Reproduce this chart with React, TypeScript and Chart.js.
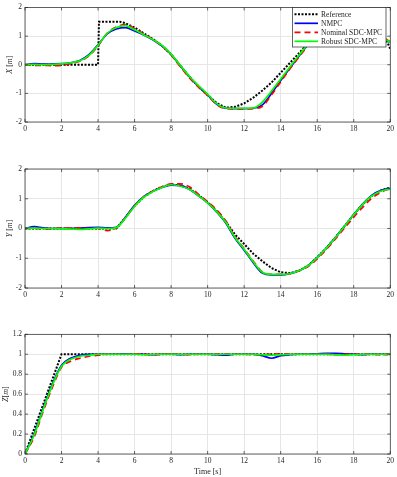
import React, { useEffect, useRef } from "react";
import { Chart, registerables } from "chart.js";
Chart.register(...registerables);

const W = 397;
const PLOT_LEFT = 25;
const PLOT_RIGHT = 391.7;
const FONT = "'Liberation Serif', 'Times New Roman', serif";
const AXIS_COLOR = "#262626";
const GRID_COLOR = "#e6e6e6";

// time grid (s)
const T = [0, 0.5, 1, 1.5, 2, 2.5, 3, 3.5, 4, 4.5, 5, 5.5, 6, 6.5, 7, 7.5, 8, 8.5, 9, 9.5, 10,
  10.5, 11, 11.5, 12, 12.5, 13, 13.5, 14, 14.5, 15, 15.5, 16, 16.5, 17, 17.5, 18, 18.5, 19, 19.5, 20];

// X position
const xRefT = [0, 4, 4.05, 5.2, 5.5, 6, 6.5, 7, 7.5, 8, 8.5, 9, 9.5, 10, 10.5, 11, 11.5, 12, 12.5, 13, 13.5,
  14, 14.5, 15, 15.5, 16, 16.5, 17, 17.5, 18, 18.5, 19, 19.5, 19.8, 20];
const xRef = [0, 0, 1.5, 1.5, 1.45, 1.3, 1.1, 0.9, 0.66, 0.36, -0.03, -0.42, -0.76, -1.06, -1.34, -1.5, -1.47,
  -1.35, -1.15, -0.9, -0.62, -0.28, 0.06, 0.4, 0.75, 1.05, 1.3, 1.45, 1.5, 1.45, 1.35, 1.18, 1.0, 0.85, 0.55];
const xNMPC = [0, 0.04, 0.02, 0.03, 0.04, 0.07, 0.15, 0.35, 0.7, 1.08, 1.25, 1.3, 1.18, 1.04, 0.87, 0.66, 0.36,
  -0.03, -0.42, -0.76, -1.05, -1.38, -1.52, -1.53, -1.53, -1.52, -1.4, -1.0, -0.55, -0.12, 0.3, 0.7, 1.03, 1.28,
  1.44, 1.5, 1.45, 1.33, 1.16, 0.98, 0.78];
const xNominal = [0, -0.02, -0.02, -0.03, -0.02, 0.04, 0.12, 0.31, 0.66, 1.1, 1.32, 1.4, 1.26, 1.08, 0.89, 0.66,
  0.34, -0.06, -0.45, -0.78, -1.07, -1.39, -1.53, -1.54, -1.54, -1.53, -1.45, -1.05, -0.6, -0.15, 0.27, 0.68,
  1.02, 1.27, 1.43, 1.5, 1.46, 1.35, 1.18, 1.0, 0.8];
const xRobust = [0, 0.01, 0.0, 0.01, 0.03, 0.07, 0.14, 0.33, 0.68, 1.1, 1.3, 1.37, 1.22, 1.05, 0.88, 0.68, 0.37,
  -0.02, -0.4, -0.73, -1.03, -1.36, -1.51, -1.52, -1.52, -1.51, -1.3, -0.92, -0.5, -0.08, 0.33, 0.72, 1.05, 1.3,
  1.45, 1.5, 1.45, 1.32, 1.15, 0.97, 0.78];

// Y position
const yRef = [0, 0, 0, 0, 0, 0, 0, 0, 0, 0, 0, 0.37, 0.76, 1.06, 1.26, 1.4, 1.48, 1.45, 1.34, 1.12, 0.88, 0.58,
  0.22, -0.2, -0.52, -0.85, -1.1, -1.33, -1.47, -1.5, -1.42, -1.25, -0.97, -0.66, -0.3, 0.08, 0.46, 0.82, 1.1,
  1.28, 1.38];
const yNMPC = [0, 0.06, 0.02, 0.0, 0.0, 0.0, 0.01, 0.03, 0.04, 0.02, 0.04, 0.38, 0.78, 1.07, 1.25, 1.38, 1.46,
  1.44, 1.32, 1.1, 0.86, 0.55, 0.18, -0.33, -0.73, -1.15, -1.5, -1.56, -1.56, -1.52, -1.42, -1.25, -0.97, -0.66,
  -0.3, 0.08, 0.47, 0.83, 1.12, 1.28, 1.35];
const yNominal = [0, 0.0, -0.01, 0.0, 0.02, 0.01, 0.02, 0.0, 0.0, -0.07, 0.02, 0.36, 0.76, 1.06, 1.26, 1.4, 1.5,
  1.5, 1.4, 1.15, 0.9, 0.62, 0.25, -0.28, -0.68, -1.1, -1.46, -1.54, -1.54, -1.52, -1.42, -1.28, -1.02, -0.7,
  -0.35, 0.02, 0.38, 0.72, 1.02, 1.22, 1.35];
const yRobust = [0, 0.01, 0.0, 0.0, -0.01, -0.02, -0.03, -0.01, 0.01, 0.0, 0.03, 0.35, 0.75, 1.05, 1.24, 1.38,
  1.47, 1.42, 1.32, 1.1, 0.86, 0.56, 0.2, -0.3, -0.7, -1.12, -1.47, -1.54, -1.54, -1.52, -1.42, -1.25, -0.98,
  -0.66, -0.3, 0.08, 0.46, 0.82, 1.1, 1.26, 1.32];

// Z position
const zRefT = [0, 2, 20];
const zRef = [0, 1, 1];
const zNMPC = [0, 0.2, 0.46, 0.7, 0.89, 0.96, 0.99, 1.0, 1.0, 1.0, 1.0, 1.005, 1.0, 1.0, 0.995, 1.0, 1.0, 0.995,
  1.0, 1.0, 1.0, 0.995, 0.99, 1.0, 1.0, 1.0, 0.985, 0.96, 0.985, 0.995, 1.0, 1.0, 1.005, 1.01, 1.01, 1.005, 1.0,
  0.995, 1.0, 1.0, 1.0];
const zNominal = [0, 0.17, 0.43, 0.67, 0.87, 0.93, 0.96, 0.98, 0.99, 1.0, 1.0, 1.0, 1.005, 1.0, 0.995, 1.0, 1.005,
  1.0, 0.995, 1.0, 1.0, 1.005, 1.005, 1.0, 1.0, 0.995, 0.995, 1.0, 1.005, 1.005, 1.0, 1.0, 1.0, 1.0, 0.995, 1.0,
  1.0, 1.005, 1.0, 0.995, 1.0];
const zRobust = [0, 0.19, 0.45, 0.69, 0.88, 0.95, 0.98, 0.99, 1.0, 1.0, 1.0, 1.0, 1.0, 0.995, 1.0, 1.0, 1.0, 1.0,
  1.0, 1.0, 1.0, 1.0, 1.0, 1.0, 1.0, 1.0, 0.995, 0.99, 0.995, 1.0, 1.0, 1.0, 1.0, 1.0, 0.995, 0.99, 0.995, 1.0,
  1.0, 1.0, 1.0];

const LEGEND_LABELS = ["Reference", "NMPC", "Nominal SDC-MPC", "Robust SDC-MPC"];

type Series = { label: string; xs: number[]; ys: number[]; color: string; dash: number[]; width: number; smooth: boolean; order: number };

const STYLES = [
  { color: "#000000", dash: [2, 1.5], width: 2, smooth: false, order: 4 },
  { color: "#0000ff", dash: [], width: 1.7, smooth: true, order: 3 },
  { color: "#ff0000", dash: [6, 4], width: 1.7, smooth: true, order: 2 },
  { color: "#00ff00", dash: [], width: 1.7, smooth: true, order: 1 },
];

function makeSeries(refT: number[], ref: number[], a: number[], b: number[], c: number[]): Series[] {
  const pairs: [number[], number[]][] = [[refT, ref], [T, a], [T, b], [T, c]];
  return pairs.map(([xs, ys], i) => ({ label: LEGEND_LABELS[i], xs, ys, ...STYLES[i] }));
}

type YPart = { t: string; it: boolean };

type PanelProps = {
  top: number; height: number; areaTop: number; areaBottom: number;
  yMin: number; yMax: number; yStep: number;
  ylabel: YPart[]; ylabelX: number; series: Series[]; legend?: boolean; xTitle?: string;
};

const fmt = (v: number) => String(Number(Number(v).toFixed(2)));

function Panel(props: PanelProps) {
  const ref = useRef<HTMLCanvasElement>(null);
  useEffect(() => {
    const { height, areaTop, areaBottom, yMin, yMax, yStep, ylabel, ylabelX, series, legend, xTitle } = props;
    const canvas = ref.current!;
    const deco = {
      id: "deco",
      afterDraw(chart: any) {
        const ctx: CanvasRenderingContext2D = chart.ctx;
        const a = chart.chartArea;
        const xs = chart.scales.x;
        const ys = chart.scales.y;
        ctx.save();
        ctx.strokeStyle = AXIS_COLOR;
        ctx.lineWidth = 0.7;
        ctx.setLineDash([]);
        ctx.strokeRect(a.left, a.top, a.right - a.left, a.bottom - a.top);
        const tl = 3;
        ctx.beginPath();
        xs.ticks.forEach((tk: any) => {
          const px = xs.getPixelForValue(tk.value);
          ctx.moveTo(px, a.bottom); ctx.lineTo(px, a.bottom - tl);
          ctx.moveTo(px, a.top); ctx.lineTo(px, a.top + tl);
        });
        ys.ticks.forEach((tk: any) => {
          const py = ys.getPixelForValue(tk.value);
          ctx.moveTo(a.left, py); ctx.lineTo(a.left + tl, py);
          ctx.moveTo(a.right, py); ctx.lineTo(a.right - tl, py);
        });
        ctx.stroke();
        const fs = 8;
        ctx.fillStyle = AXIS_COLOR;
        ctx.textBaseline = "middle";
        ctx.textAlign = "left";
        const fontFor = (it: boolean) => `${it ? "italic " : ""}${fs}px ${FONT}`;
        let total = 0;
        ylabel.forEach((p) => { ctx.font = fontFor(p.it); total += ctx.measureText(p.t).width; });
        ctx.translate(ylabelX, (a.top + a.bottom) / 2);
        ctx.rotate(-Math.PI / 2);
        let cx = -total / 2;
        ylabel.forEach((p) => { ctx.font = fontFor(p.it); ctx.fillText(p.t, cx, 0); cx += ctx.measureText(p.t).width; });
        ctx.setTransform(1, 0, 0, 1, 0, 0);
        if (xTitle) {
          ctx.font = `8px ${FONT}`;
          ctx.textAlign = "center";
          ctx.fillText(xTitle, (a.left + a.right) / 2, height - 5);
        }
        if (legend) {
          const bx = 292.5, by = 7.5, bw = 93.5, bh = 39.5;
          ctx.fillStyle = "#ffffff";
          ctx.fillRect(bx, by, bw, bh);
          ctx.strokeStyle = AXIS_COLOR;
          ctx.lineWidth = 0.7;
          ctx.strokeRect(bx, by, bw, bh);
          series.forEach((s, i) => {
            const ry = 14.3 + i * 9;
            ctx.beginPath();
            ctx.strokeStyle = s.color;
            ctx.lineWidth = s.width;
            ctx.setLineDash(s.dash);
            ctx.moveTo(294.5, ry); ctx.lineTo(318, ry);
            ctx.stroke();
            ctx.setLineDash([]);
            ctx.fillStyle = AXIS_COLOR;
            ctx.font = `7.5px ${FONT}`;
            ctx.textAlign = "left";
            ctx.textBaseline = "middle";
            ctx.fillText(s.label, 321, ry + 0.5);
          });
        }
        ctx.restore();
      },
    };
    const tickFont = { family: FONT, size: 7.5 };
    const chart = new Chart(canvas, {
      type: "line",
      data: {
        datasets: series.map((s) => ({
          label: s.label,
          data: s.xs.map((x, i) => ({ x, y: s.ys[i] })),
          borderColor: s.color,
          backgroundColor: s.color,
          borderWidth: s.width,
          borderDash: s.dash,
          borderCapStyle: "butt",
          pointRadius: 0,
          fill: false,
          tension: 0,
          cubicInterpolationMode: s.smooth ? "monotone" : "default",
          order: s.order,
        })) as any,
      },
      options: {
        responsive: false,
        animation: false,
        devicePixelRatio: 1,
        layout: { padding: { top: areaTop, right: W - PLOT_RIGHT, left: 0, bottom: 0 } },
        plugins: { legend: { display: false }, tooltip: { enabled: false }, title: { display: false } },
        scales: {
          x: {
            type: "linear", min: 0, max: 20,
            ticks: { stepSize: 2, font: tickFont, color: AXIS_COLOR, padding: 3, maxRotation: 0, autoSkip: false, callback: (v: any) => fmt(v) },
            grid: { color: GRID_COLOR, drawTicks: false, lineWidth: 1 },
            border: { display: false },
            afterFit: (s: any) => { s.height = height - areaBottom; },
          },
          y: {
            type: "linear", min: yMin, max: yMax,
            ticks: { stepSize: yStep, font: tickFont, color: AXIS_COLOR, padding: 3, autoSkip: false, callback: (v: any) => fmt(v) },
            grid: { color: GRID_COLOR, drawTicks: false, lineWidth: 1 },
            border: { display: false },
            afterFit: (s: any) => { s.width = PLOT_LEFT; },
          },
        },
      } as any,
      plugins: [deco],
    });
    return () => chart.destroy();
  }, []);
  return (
    <canvas
      ref={ref}
      width={W}
      height={props.height}
      style={{ position: "absolute", left: 0, top: props.top, width: W, height: props.height }}
    />
  );
}

export default function App() {
  return (
    <div style={{ position: "absolute", left: 0, top: 0, width: W, height: 477, background: "#fff", overflow: "hidden" }}>
      <Panel
        top={0} height={140} areaTop={3} areaBottom={122}
        yMin={-2} yMax={2} yStep={1}
        ylabel={[{ t: "X", it: true }, { t: " [", it: false }, { t: "m", it: true }, { t: "]", it: false }]}
        ylabelX={10}
        series={makeSeries(xRefT, xRef, xNMPC, xNominal, xRobust)}
        legend
      />
      <Panel
        top={140} height={160} areaTop={29} areaBottom={148}
        yMin={-2} yMax={2} yStep={1}
        ylabel={[{ t: "Y", it: true }, { t: " [", it: false }, { t: "m", it: true }, { t: "]", it: false }]}
        ylabelX={10}
        series={makeSeries(T, yRef, yNMPC, yNominal, yRobust)}
      />
      <Panel
        top={310} height={167} areaTop={24.3} areaBottom={144}
        yMin={0} yMax={1.2} yStep={0.2}
        ylabel={[{ t: "Z", it: true }, { t: "[", it: false }, { t: "m", it: true }, { t: "]", it: false }]}
        ylabelX={6}
        series={makeSeries(zRefT, zRef, zNMPC, zNominal, zRobust)}
        xTitle="Time [s]"
      />
    </div>
  );
}
